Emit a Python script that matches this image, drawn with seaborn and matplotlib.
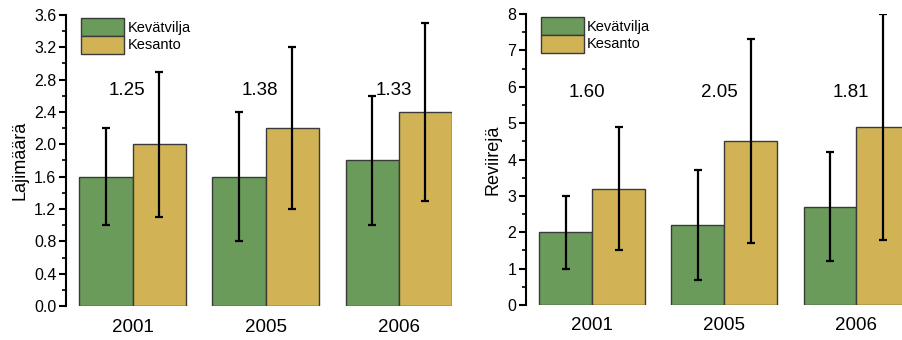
import numpy as np
import pandas as pd
import seaborn as sns
import matplotlib.pyplot as plt
from matplotlib.ticker import MultipleLocator

years = ["2001", "2005", "2006"]
groups = ["Kevätvilja", "Kesanto"]

# vasen: lajimäärä
laji_kev = [1.6, 1.6, 1.8]
laji_kev_err = [0.6, 0.8, 0.8]
laji_kes = [2.0, 2.2, 2.4]
laji_kes_err = [0.9, 1.0, 1.1]
laji_ratio = ["1.25", "1.38", "1.33"]

# oikea: reviirejä
rev_kev = [2.0, 2.2, 2.7]
rev_kev_err = [1.0, 1.5, 1.5]
rev_kes = [3.2, 4.5, 4.9]
rev_kes_err = [1.7, 2.8, 3.1]
rev_ratio = ["1.60", "2.05", "1.81"]

colors = ["#6b9b5a", "#d1b356"]

sns.set_style("ticks")
plt.rcParams["font.family"] = ["Liberation Sans", "DejaVu Sans"]
plt.rcParams["text.color"] = "black"
plt.rcParams["axes.labelcolor"] = "black"
plt.rcParams["xtick.color"] = "black"
plt.rcParams["ytick.color"] = "black"
plt.rcParams["axes.edgecolor"] = "black"


def make_df(kev, kes):
    return pd.DataFrame({
        "year": years * 2,
        "group": [groups[0]] * 3 + [groups[1]] * 3,
        "value": list(kev) + list(kes),
    })


def panel(ax, kev, kev_err, kes, kes_err, ratio, ylab, ymax, major, minor, ratio_y, xmax):
    df = make_df(kev, kes)
    sns.barplot(data=df, x="year", y="value", hue="group", hue_order=groups,
                palette=colors, errorbar=None, edgecolor="#3a3a3a",
                linewidth=1.0, saturation=1, ax=ax)
    for cont, err in zip(ax.containers, [kev_err, kes_err]):
        for bar, e in zip(cont, err):
            xc = bar.get_x() + bar.get_width() / 2
            ax.errorbar(xc, bar.get_height(), yerr=e, color="black",
                        elinewidth=1.6, capsize=3, capthick=1.6)
    for i, t in enumerate(ratio):
        ax.text(i - 0.04, ratio_y, t, ha="center", va="center", fontsize=13.5)
    ax.set_ylim(0, ymax)
    ax.set_xlim(-0.5, xmax)
    ax.yaxis.set_major_locator(MultipleLocator(major))
    ax.yaxis.set_minor_locator(MultipleLocator(minor))
    ax.set_ylabel(ylab, fontsize=13, labelpad=4)
    ax.set_xlabel("")
    for s in ["top", "right", "bottom"]:
        ax.spines[s].set_visible(False)
    ax.spines["left"].set_linewidth(1.5)
    ax.tick_params(axis="y", which="major", length=5, width=1.5, labelsize=11.5, pad=2)
    ax.tick_params(axis="y", which="minor", length=3, width=1.2)
    ax.tick_params(axis="x", length=0, labelsize=13.5, pad=9)
    h, l = ax.get_legend_handles_labels()
    ax.legend(h, l, loc="upper left", bbox_to_anchor=(0.025, 1.01), frameon=False,
              handlelength=2.9, handleheight=1.5, labelspacing=0.0,
              handletextpad=0.25, fontsize=10.5, borderaxespad=0)


fig = plt.figure(figsize=(9.03, 3.40), dpi=100)
ax1 = fig.add_axes([66 / 903, 34 / 340, 386 / 903, 291 / 340])
ax2 = fig.add_axes([526 / 903, 35 / 340, 378 / 903, 291 / 340])

fmt = lambda v, p: f"{v:.1f}"
panel(ax1, laji_kev, laji_kev_err, laji_kes, laji_kes_err, laji_ratio,
      "Lajimäärä", 3.6, 0.4, 0.2, 2.67, 2.4)
ax1.yaxis.set_major_formatter(plt.FuncFormatter(fmt))
panel(ax2, rev_kev, rev_kev_err, rev_kes, rev_kes_err, rev_ratio,
      "Reviirejä", 8, 1, 0.5, 5.85, 2.36)

fig.savefig("out.png", dpi=100)
